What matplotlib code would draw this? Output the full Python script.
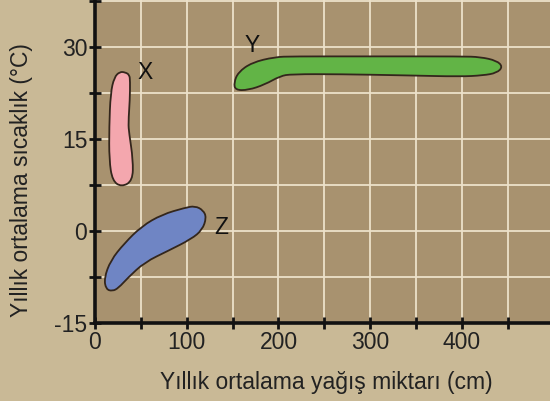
import matplotlib
matplotlib.use("Agg")
import matplotlib.pyplot as plt
import matplotlib.path as mpath
import matplotlib.patches as mpatches
import numpy as np

# blob outlines (x: cm, y: degC)
x_blob = [(33, 25.9), (37.5, 25.5), (38.3, 24.5), (38, 21.4), (36.3, 17.6), (37.2, 16),
          (41.5, 11.6), (41, 8.2), (29, 7.2), (19, 8.2), (15.5, 11.6), (15.5, 17),
          (17, 22.5), (21, 25.1), (27, 26.0)]
y_blob = [(196, 28.4), (215, 28.5), (300, 28.5), (400, 28.5), (420, 28.4), (438, 27.8),
          (444.5, 26.8), (438, 25.8), (423, 25.4), (398, 25.2), (340, 25.4), (267, 25.6),
          (214, 25.6), (202, 25.3), (185, 23.9), (167, 23.0), (153, 23.0), (151.5, 24.2),
          (156, 25.9), (171, 27.5)]
z_blob = [(118, 3.4), (109, 4.1), (98, 3.8), (73, 2.7), (51, 0.8), (32, -2.0), (17, -4.8),
          (10, -7.7), (12, -9.5), (19, -9.8), (25.5, -9.3), (36, -7.6), (54, -5.1),
          (80, -3.2), (105, -1.3), (117, 0.2), (121.5, 2.2)]

blob_names = ["X", "Y", "Z"]
blob_colors = ["#f4a7ae", "#62b446", "#6f85c4"]
label_pos = [(55, 25.9), (171, 30.3), (138, 0.6)]

x_ticks = [0, 100, 200, 300, 400]
y_ticks = [-15, 0, 15, 30]


def blob_path(pts):
    # closed quadratic spline through midpoints, control points = outline points
    pts = np.array(pts, dtype=float)
    n = len(pts)
    mids = (pts + np.roll(pts, -1, axis=0)) / 2
    verts = [mids[-1]]
    codes = [mpath.Path.MOVETO]
    for i in range(n):
        verts += [pts[i], mids[i]]
        codes += [mpath.Path.CURVE3, mpath.Path.CURVE3]
    verts.append(mids[-1])
    codes.append(mpath.Path.CLOSEPOLY)
    return mpath.Path(verts, codes)


plt.rcParams["font.family"] = ["Liberation Sans", "DejaVu Sans"]
fig = plt.figure(figsize=(5.5, 4.01), dpi=100)
fig.patch.set_facecolor("#c9b996")
ax = fig.add_axes([0.1727, 0.1945, 0.8273, 0.8055])
ax.set_facecolor("#a8926f")

xt = np.arange(0, 500, 50)
yt = np.arange(-15, 37.6, 7.5)
ax.set_xlim(0, 496)
ax.set_ylim(-15, 37.7)
ax.set_xticks(xt)
ax.set_yticks(yt)
ax.set_xticklabels([str(v) if v in x_ticks else "" for v in xt])
ax.set_yticklabels([str(int(v)) if v in y_ticks else "" for v in yt])
ax.grid(True, color="#ece1c9", lw=1.3)
ax.set_axisbelow(True)

for s in ["top", "right"]:
    ax.spines[s].set_visible(False)
for s in ["left", "bottom"]:
    ax.spines[s].set_linewidth(2.6)
    ax.spines[s].set_color("#111111")
ax.tick_params(direction="inout", length=9, width=2, color="#111111",
               labelsize=16.5, labelcolor="#222222", pad=1)

for pts, col, name, (lx, ly) in zip([x_blob, y_blob, z_blob], blob_colors, blob_names, label_pos):
    ax.add_patch(mpatches.PathPatch(blob_path(pts), facecolor=col, edgecolor="#33261c",
                                    lw=1.3, zorder=3))
    ax.text(lx, ly, name, fontsize=16.5, color="#111111", ha="center", va="center", zorder=4)

ax.set_xlabel("Yıllık ortalama yağış miktarı (cm)", fontsize=16.5, color="#222222")
ax.set_ylabel("Yıllık ortalama sıcaklık (°C)", fontsize=16.5, color="#222222")
ax.xaxis.set_label_coords(0.508, -0.148)
ax.yaxis.set_label_coords(-0.136, 0.443)

fig.savefig("out.png", dpi=100, facecolor=fig.get_facecolor())
